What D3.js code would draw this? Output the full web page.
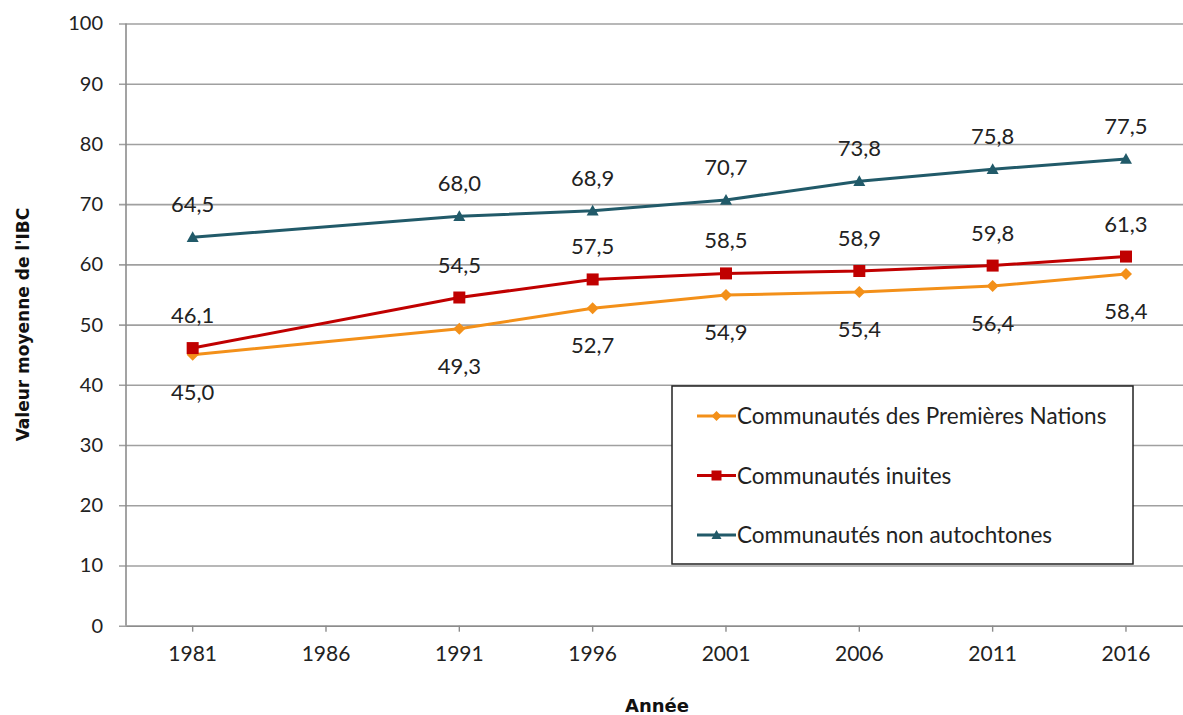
<!DOCTYPE html>
<html lang="fr">
<head>
<meta charset="utf-8">
<script src="https://cdn.jsdelivr.net/npm/d3@7"></script>
<style>
  html, body { margin: 0; padding: 0; background: #fff; }
  svg { display: block; }
</style>
</head>
<body>
<svg id="chart" width="1183" height="715"></svg>
<script>
// Years on the category axis (1986 has no observation)
const years = ["1981", "1986", "1991", "1996", "2001", "2006", "2011", "2016"];
const yTicks = [0, 10, 20, 30, 40, 50, 60, 70, 80, 90, 100];

// Mean CWB index value by community type
const premieresNations = [45.0, null, 49.3, 52.7, 54.9, 55.4, 56.4, 58.4];
const inuites = [46.1, null, 54.5, 57.5, 58.5, 58.9, 59.8, 61.3];
const nonAutochtones = [64.5, null, 68.0, 68.9, 70.7, 73.8, 75.8, 77.5];

const seriesNames = [
  "Communautés des Premières Nations",
  "Communautés inuites",
  "Communautés non autochtones"
];

const series = [
  { name: seriesNames[0], values: premieresNations, color: "#f39019", marker: "diamond", labelPos: "below" },
  { name: seriesNames[1], values: inuites, color: "#c00000", marker: "square", labelPos: "above" },
  { name: seriesNames[2], values: nonAutochtones, color: "#215a69", marker: "triangle", labelPos: "above" }
];

const svg = d3.select("#chart");
const plotLeft = 126, plotTop = 23.5, plotBottom = 625.7;
const band = 133.33;

const x = d3.scaleBand().domain(years).range([plotLeft, plotLeft + band * years.length]).padding(0);
const y = d3.scaleLinear().domain([0, 100]).range([plotBottom, plotTop]);
const cx = d => x(d) + x.bandwidth() / 2;

const labelFont = "Lato, 'Open Sans', sans-serif";
const titleFont = "'DejaVu Sans', Verdana, sans-serif";
const gridColor = "#a0a0a0";

// Horizontal gridlines with short outward ticks
const yAxis = d3.axisLeft(y).tickValues(yTicks).tickSize(-(1183 - plotLeft)).tickPadding(14).tickSizeOuter(0);
const gy = svg.append("g").attr("transform", `translate(${plotLeft},0)`).call(yAxis);
gy.select(".domain").remove();
gy.selectAll(".tick line")
  .attr("x1", -7)
  .attr("stroke", gridColor)
  .attr("stroke-width", 1.6);
gy.selectAll(".tick text")
  .attr("x", -23)
  .attr("font-family", labelFont)
  .attr("font-size", 20)
  .attr("fill", "#222");

// Vertical axis line
svg.append("line")
  .attr("x1", plotLeft).attr("x2", plotLeft)
  .attr("y1", plotTop).attr("y2", plotBottom)
  .attr("stroke", "#8c8c8c").attr("stroke-width", 1.6);

// Category axis
const xAxis = d3.axisBottom(x).tickSize(6).tickSizeOuter(0).tickPadding(14);
const gx = svg.append("g").attr("transform", `translate(0,${plotBottom})`).call(xAxis);
gx.select(".domain").attr("stroke", "#8c8c8c").attr("stroke-width", 1.6);
gx.selectAll(".tick line").attr("stroke", "#8c8c8c").attr("stroke-width", 1.4);
gx.selectAll(".tick text")
  .attr("font-family", labelFont)
  .attr("font-size", 21)
  .attr("fill", "#222");

// Axis titles
svg.append("text")
  .attr("x", 0).attr("y", 0)
  .attr("transform", `translate(29,${(plotTop + plotBottom) / 2}) rotate(-90)`)
  .attr("text-anchor", "middle")
  .attr("font-family", titleFont)
  .attr("font-weight", "bold")
  .attr("font-size", 17)
  .attr("fill", "#111")
  .text("Valeur moyenne de l'IBC");

svg.append("text")
  .attr("x", 657).attr("y", 712)
  .attr("text-anchor", "middle")
  .attr("font-family", titleFont)
  .attr("font-weight", "bold")
  .attr("font-size", 18)
  .attr("fill", "#111")
  .text("Année");

// Marker shapes
function markerPath(kind, size) {
  const s = size / 2;
  if (kind === "diamond") return `M0,${-s}L${s},0L0,${s}L${-s},0Z`;
  if (kind === "square") return `M${-s},${-s}H${s}V${s}H${-s}Z`;
  return `M0,${-s}L${s},${s * 0.8}L${-s},${s * 0.8}Z`;
}

const line = d3.line().x(d => cx(d.year)).y(d => y(d.value));

series.forEach(s => {
  const pts = years.map((yr, i) => ({ year: yr, value: s.values[i] })).filter(d => d.value !== null);
  const g = svg.append("g");
  g.append("path")
    .datum(pts)
    .attr("d", line)
    .attr("fill", "none")
    .attr("stroke", s.color)
    .attr("stroke-width", 3)
    .attr("stroke-linejoin", "round");
  g.selectAll("path.m")
    .data(pts).enter().append("path")
    .attr("class", "m")
    .attr("transform", d => `translate(${cx(d.year)},${y(d.value)})`)
    .attr("d", markerPath(s.marker, 12))
    .attr("fill", s.color);
  g.selectAll("text")
    .data(pts).enter().append("text")
    .attr("x", d => cx(d.year))
    .attr("y", d => y(d.value) + (s.labelPos === "above" ? -25 : 45))
    .attr("text-anchor", "middle")
    .attr("font-family", labelFont)
    .attr("font-size", 22)
    .attr("fill", "#222")
    .text(d => d3.format(".1f")(d.value).replace(".", ","));
});

// Legend
const lg = svg.append("g").attr("transform", "translate(672,386)");
lg.append("rect")
  .attr("width", 461).attr("height", 178)
  .attr("fill", "#fff")
  .attr("stroke", "#222").attr("stroke-width", 1.5);
series.forEach((s, i) => {
  const yy = 30 + i * 59.5;
  lg.append("line")
    .attr("x1", 25).attr("x2", 64)
    .attr("y1", yy).attr("y2", yy)
    .attr("stroke", s.color).attr("stroke-width", 3);
  lg.append("path")
    .attr("transform", `translate(44.5,${yy})`)
    .attr("d", markerPath(s.marker, 10))
    .attr("fill", s.color);
  lg.append("text")
    .attr("x", 65).attr("y", yy + 8)
    .attr("font-family", labelFont)
    .attr("font-size", 22.5)
    .attr("fill", "#222")
    .text(s.name);
});
</script>
</body>
</html>
